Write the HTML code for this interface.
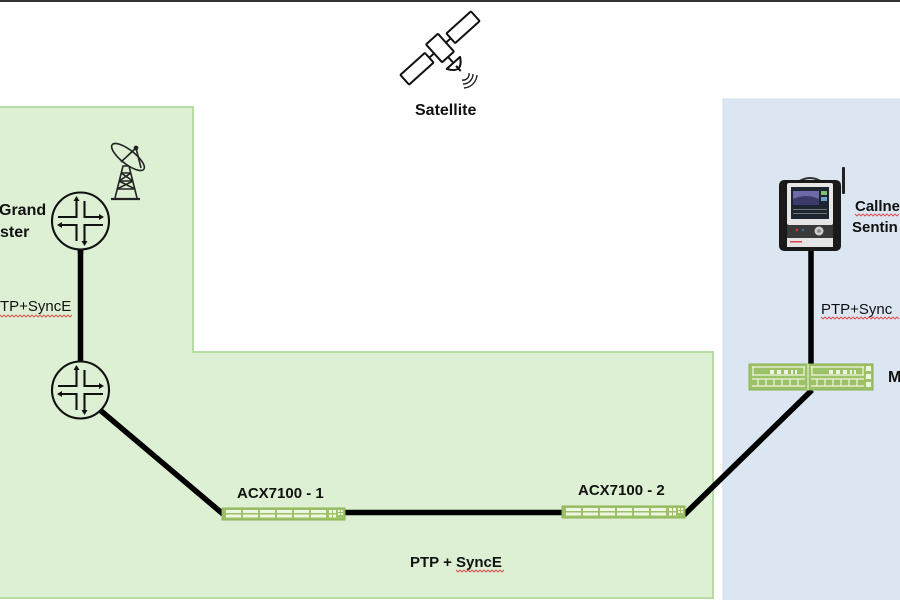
<!DOCTYPE html>
<html><head><meta charset="utf-8"><style>
html,body{margin:0;padding:0;background:#fff;}
body{width:900px;height:600px;overflow:hidden;position:relative;}
svg{position:absolute;left:0;top:0;}
text{font-family:"Liberation Sans",Arial,sans-serif;fill:#111;}
.b{font-weight:bold;}
</style></head><body>
<svg width="900" height="600" viewBox="0 0 900 600" xmlns="http://www.w3.org/2000/svg">
<rect x="0" y="0" width="900" height="600" fill="#fff"/>
<rect x="0" y="0" width="900" height="2" fill="#333"/>
<!-- green region -->
<path d="M-2,107 H193 V352 H713 V598 H-2 Z" fill="#ddf0d4" stroke="#b7dca3" stroke-width="2"/>
<!-- blue region -->
<rect x="723" y="99" width="180" height="503" fill="#dce6f2" stroke="#d2deec" stroke-width="1"/>

<!-- satellite -->
<g transform="translate(440,48) rotate(-42)" fill="#fff" stroke="#111" stroke-width="2" stroke-linejoin="round">
  <rect x="-8" y="-12" width="16" height="24" rx="1"/>
  <line x1="8" y1="0" x2="14.5" y2="0"/>
  <line x1="-8" y1="0" x2="-14.5" y2="0"/>
  <rect x="14.5" y="-6.5" width="33" height="13" rx="1"/>
  <rect x="-47.5" y="-6.5" width="33" height="13" rx="1"/>
  <line x1="0" y1="12" x2="0" y2="19"/>
  <path d="M-9,20 Q0,35 9,20 Z"/>
  <line x1="0" y1="24" x2="0" y2="31"/>
</g>
<g fill="none" stroke="#222" stroke-width="1.4">
  <path d="M462,80 A6,6 0 0 0 469,73"/>
  <path d="M463,84 A10,10 0 0 0 473,74"/>
  <path d="M464,88 A14,14 0 0 0 477,75"/>
</g>
<text x="415" y="115" class="b" font-size="16">Satellite</text>

<!-- dish antenna -->
<g fill="none" stroke="#222" stroke-width="1.6">
  <path d="M111,199 H140" stroke-width="2.2"/>
  <path d="M115,198 L123,166 L129,166 L137,198"/>
  <path d="M117,189 L135,189 M119,181 L133,181 M121,173 L131,173"/>
  <path d="M117,189 L133,181 M135,189 L119,181 M119,181 L131,173 M133,181 L121,173"/>
  <ellipse cx="128" cy="157" rx="20" ry="7" transform="rotate(38 128 157)" fill="#ddf0d4"/>
  <path d="M121,162 L136,148 L141,168"/>
  <circle cx="136" cy="148" r="1.6" fill="#222"/>
</g>

<!-- connectors -->
<g stroke="#000" stroke-width="5.5" stroke-linecap="butt" fill="none">
  <line x1="80.5" y1="250" x2="80.5" y2="362"/>
  <line x1="100" y1="410" x2="223" y2="514"/>
  <line x1="344" y1="512.5" x2="563" y2="512.5"/>
  <line x1="684" y1="515" x2="812" y2="390"/>
  <line x1="811" y1="249" x2="811" y2="365"/>
</g>

<!-- routers -->
<g fill="none" stroke="#111" stroke-width="2.1">
  <circle cx="80.5" cy="221" r="28.5" fill="#ddf0d4"/>
  <path d="M76.5,199 V217 H58 M84.5,201 V217 H101 M76.5,241 V225 H60 M84.5,243 V225 H103"/>
</g>
<g fill="#111">
  <path d="M76.5,196 L73.5,201 L79.5,201 Z"/>
  <path d="M104,217 L99,214 L99,220 Z"/>
  <path d="M57,225 L62,222 L62,228 Z"/>
  <path d="M84.5,246 L81.5,241 L87.5,241 Z"/>
</g>
<g fill="none" stroke="#111" stroke-width="2.1">
  <circle cx="80.5" cy="390" r="28.5" fill="#ddf0d4"/>
  <path d="M76.5,368 V386 H58 M84.5,370 V386 H101 M76.5,410 V394 H60 M84.5,412 V394 H103"/>
</g>
<g fill="#111">
  <path d="M76.5,365 L73.5,370 L79.5,370 Z"/>
  <path d="M104,386 L99,383 L99,389 Z"/>
  <path d="M57,394 L62,391 L62,397 Z"/>
  <path d="M84.5,415 L81.5,410 L87.5,410 Z"/>
</g>
<line x1="80.5" y1="250" x2="80.5" y2="254" stroke="#000" stroke-width="5.5"/>

<!-- ACX1 -->
<g>
  <rect x="222" y="508" width="123" height="12" fill="#9dc166" stroke="#8db255" stroke-width="1"/>
  <g fill="#eef5e2">
    <rect x="226" y="510" width="15" height="3"/><rect x="243" y="510" width="15" height="3"/><rect x="260" y="510" width="15" height="3"/><rect x="277" y="510" width="15" height="3"/><rect x="294" y="510" width="15" height="3"/><rect x="311" y="510" width="15" height="3"/>
    <rect x="226" y="514.5" width="15" height="3"/><rect x="243" y="514.5" width="15" height="3"/><rect x="260" y="514.5" width="15" height="3"/><rect x="277" y="514.5" width="15" height="3"/><rect x="294" y="514.5" width="15" height="3"/><rect x="311" y="514.5" width="15" height="3"/>
    <rect x="329" y="510" width="3" height="3"/><rect x="333" y="510" width="3" height="3"/><rect x="329" y="514.5" width="3" height="3"/><rect x="333" y="514.5" width="3" height="3"/>
    <rect x="338" y="510" width="2" height="2"/><rect x="341" y="510" width="2" height="2"/><rect x="338" y="513" width="2" height="2"/><rect x="341" y="513" width="2" height="2"/>
  </g>
</g>
<!-- ACX2 -->
<g>
  <rect x="562" y="506" width="123" height="12" fill="#9dc166" stroke="#8db255" stroke-width="1"/>
  <g fill="#eef5e2">
    <rect x="566" y="508" width="15" height="3"/><rect x="583" y="508" width="15" height="3"/><rect x="600" y="508" width="15" height="3"/><rect x="617" y="508" width="15" height="3"/><rect x="634" y="508" width="15" height="3"/><rect x="651" y="508" width="15" height="3"/>
    <rect x="566" y="512.5" width="15" height="3"/><rect x="583" y="512.5" width="15" height="3"/><rect x="600" y="512.5" width="15" height="3"/><rect x="617" y="512.5" width="15" height="3"/><rect x="634" y="512.5" width="15" height="3"/><rect x="651" y="512.5" width="15" height="3"/>
    <rect x="669" y="508" width="3" height="3"/><rect x="673" y="508" width="3" height="3"/><rect x="669" y="512.5" width="3" height="3"/><rect x="673" y="512.5" width="3" height="3"/>
    <rect x="678" y="508" width="2" height="2"/><rect x="681" y="508" width="2" height="2"/><rect x="678" y="511" width="2" height="2"/><rect x="681" y="511" width="2" height="2"/>
  </g>
</g>

<!-- MX switch -->
<g>
  <rect x="749" y="364" width="124" height="26" fill="#9dc166" stroke="#8db255" stroke-width="1"/>
  <line x1="808" y1="364" x2="808" y2="390" stroke="#eef5e2" stroke-width="1"/>
  <g fill="none" stroke="#eef5e2" stroke-width="1.2">
    <path d="M752,367 H805 M753,367 V375 M752,375 H805 M804,367 V375"/>
    <path d="M752,379 H805 M752,386 H805 M758,379 V386 M766,379 V386 M774,379 V386 M782,379 V386 M790,379 V386 M798,379 V386"/>
    <path d="M811,367 H864 M812,367 V375 M811,375 H864 M863,367 V375"/>
    <path d="M811,379 H864 M811,386 H864 M817,379 V386 M825,379 V386 M833,379 V386 M841,379 V386 M849,379 V386 M857,379 V386"/>
  </g>
  <g fill="#eef5e2">
    <rect x="770" y="370" width="4" height="4"/><rect x="777" y="370" width="4" height="4"/><rect x="784" y="370" width="4" height="4"/><rect x="791" y="370" width="2" height="4"/><rect x="795" y="370" width="2" height="4"/>
    <rect x="829" y="370" width="4" height="4"/><rect x="836" y="370" width="4" height="4"/><rect x="843" y="370" width="4" height="4"/><rect x="850" y="370" width="2" height="4"/><rect x="854" y="370" width="2" height="4"/>
    <rect x="866" y="366" width="5" height="5"/><rect x="866" y="374" width="5" height="5"/><rect x="866" y="382" width="5" height="5"/>
  </g>
</g>

<!-- Calnex Sentinel device -->
<g>
  <rect x="842" y="167" width="3" height="27" rx="1" fill="#222"/>
  <path d="M798,182 Q810,174 822,182" fill="none" stroke="#333" stroke-width="2"/>
  <rect x="779" y="180" width="62" height="71" rx="5" fill="#1a1a1a"/>
  <rect x="787" y="183" width="46" height="42" rx="2" fill="#e6e6e6"/>
  <rect x="791" y="187" width="38" height="32" fill="#1c2530"/>
  <rect x="793" y="191" width="26" height="14" fill="#6e6aa8"/>
  <path d="M793,199 Q806,193 819,199 V205 H793 Z" fill="#3b3a6a"/>
  <rect x="821" y="191" width="6" height="4" fill="#7fbf6f"/>
  <rect x="821" y="197" width="6" height="4" fill="#6fa0c8"/>
  <rect x="793" y="209" width="34" height="1" fill="#777"/>
  <rect x="793" y="213" width="34" height="1" fill="#777"/>
  <rect x="787" y="225" width="46" height="22" fill="#3a3a3a"/>
  <rect x="787" y="238" width="46" height="9" fill="#e4e4e4"/>
  <circle cx="797" cy="230" r="1.3" fill="#d33"/>
  <circle cx="803" cy="230" r="1.3" fill="#46a"/>
  <circle cx="819" cy="231" r="4.5" fill="#ccc"/>
  <circle cx="819" cy="231" r="1.8" fill="#888"/>
  <rect x="790" y="241" width="12" height="1.5" fill="#d44"/>
</g>

<!-- labels -->
<text x="-1" y="215" class="b" font-size="16">Grand</text>
<text x="0" y="237" class="b" font-size="16">ster</text>
<text x="-10" y="311" font-size="15">PTP+SyncE</text>
<text x="237" y="498" class="b" font-size="15">ACX7100 - 1</text>
<text x="578" y="495" class="b" font-size="15">ACX7100 - 2</text>
<text x="410" y="567" class="b" font-size="15">PTP + SyncE</text>
<text x="855" y="211" class="b" font-size="15">Callne</text>
<text x="852" y="232" class="b" font-size="15">Sentin</text>
<text x="821" y="314" font-size="15">PTP+Sync</text>
<text x="888" y="382" class="b" font-size="16">M</text>

<!-- red spell-check squiggles -->
<g fill="none" stroke="#d44" stroke-width="0.9">
  <path d="M0,315 l2,2 l2,-2 l2,2 l2,-2 l2,2 l2,-2 l2,2 l2,-2 l2,2 l2,-2 l2,2 l2,-2 l2,2 l2,-2 l2,2 l2,-2 l2,2 l2,-2 l2,2 l2,-2 l2,2 l2,-2 l2,2 l2,-2 l2,2 l2,-2 l2,2 l2,-2 l2,2 l2,-2 l2,2 l2,-2 l2,2 l2,-2 l2,2 l2,-2"/>
  <path d="M855,214 l2,2 l2,-2 l2,2 l2,-2 l2,2 l2,-2 l2,2 l2,-2 l2,2 l2,-2 l2,2 l2,-2 l2,2 l2,-2 l2,2 l2,-2 l2,2 l2,-2 l2,2 l2,-2 l2,2 l2,-2"/>
  <path d="M821,317 l2,2 l2,-2 l2,2 l2,-2 l2,2 l2,-2 l2,2 l2,-2 l2,2 l2,-2 l2,2 l2,-2 l2,2 l2,-2 l2,2 l2,-2 l2,2 l2,-2 l2,2 l2,-2 l2,2 l2,-2 l2,2 l2,-2 l2,2 l2,-2 l2,2 l2,-2 l2,2 l2,-2 l2,2 l2,-2 l2,2 l2,-2 l2,2 l2,-2 l2,2 l2,-2 l2,2"/>
  <path d="M456,570 l2,2 l2,-2 l2,2 l2,-2 l2,2 l2,-2 l2,2 l2,-2 l2,2 l2,-2 l2,2 l2,-2 l2,2 l2,-2 l2,2 l2,-2 l2,2 l2,-2 l2,2 l2,-2 l2,2 l2,-2 l2,2 l2,-2"/>
</g>
</svg>
</body></html>
